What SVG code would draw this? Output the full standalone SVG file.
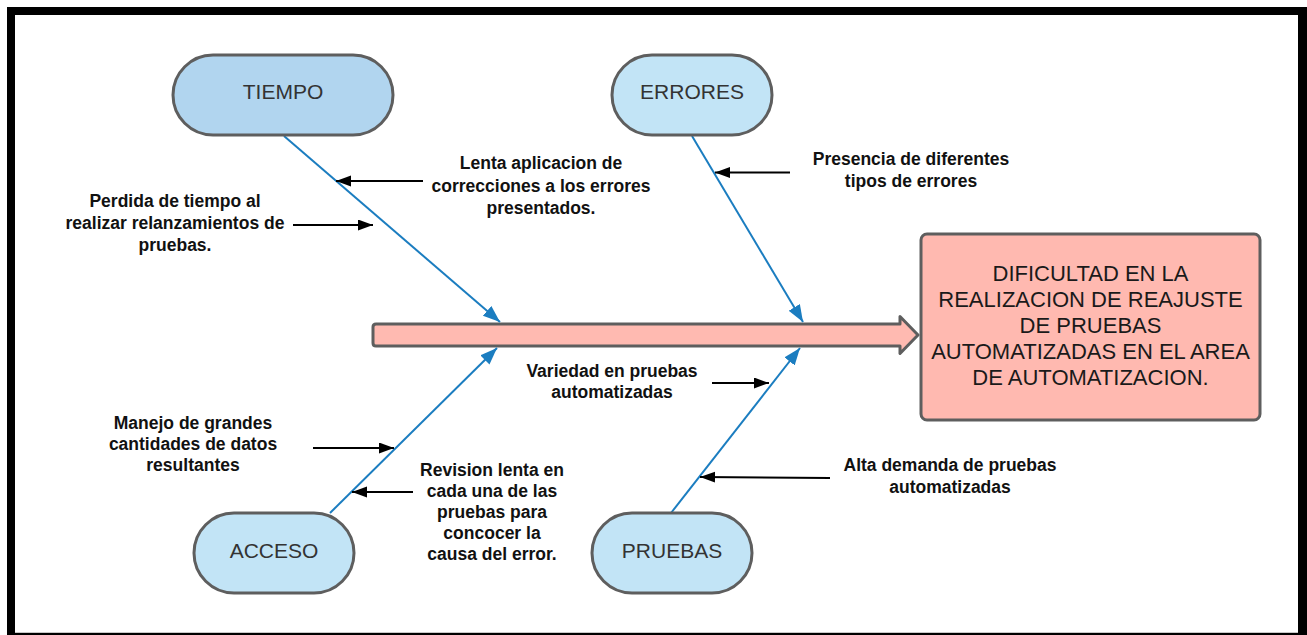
<svg xmlns="http://www.w3.org/2000/svg" width="1307" height="635" viewBox="0 0 1307 635">
  <style>
    .cause { stroke: #5e5e5e; stroke-width: 3; }
    .node-label { font-family: "Liberation Sans", Arial, sans-serif; font-size: 21px; fill: #333333; text-anchor: middle; }
    .note { font-family: "Liberation Sans", Arial, sans-serif; font-size: 17.5px; font-weight: bold; fill: #111111; text-anchor: middle; }
    .effect-label { font-family: "Liberation Sans", Arial, sans-serif; font-size: 22px; fill: #1a1a1a; text-anchor: middle; }
    .bone { stroke: #1b7dc0; stroke-width: 2; fill: none; marker-end: url(#blueHead); }
    .pointer { stroke: #000000; stroke-width: 2; fill: none; marker-end: url(#blackHead); }
  </style>
  <defs>
    <marker id="blueHead" markerUnits="userSpaceOnUse" markerWidth="18" markerHeight="14" refX="17" refY="6.5" orient="auto">
      <path d="M0,0 L17,6.5 L0,13 z" fill="#1b7dc0"/>
    </marker>
    <marker id="blackHead" markerUnits="userSpaceOnUse" markerWidth="16" markerHeight="12" refX="15" refY="5.5" orient="auto">
      <path d="M0,0 L15,5.5 L0,11 z" fill="#000000"/>
    </marker>
  </defs>

  <!-- frame -->
  <rect x="7" y="7" width="1300" height="628" fill="#000000"/>
  <rect x="15" y="15" width="1283" height="618" fill="#ffffff"/>
  <line x1="15" y1="632.5" x2="1298" y2="632.5" stroke="#c8c8c8" stroke-width="1"/>

  <!-- spine -->
  <g id="spine">
    <path d="M376,324 H900 V316.5 L918,335 L900,353.5 V346 H376 Q373,346 373,343 V327 Q373,324 376,324 z" fill="#ffbab1" stroke="#5e5e5e" stroke-width="3" stroke-linejoin="round"/>
  </g>

  <!-- connectors -->
  <g id="connectors">
    <line class="bone" x1="284" y1="136" x2="500" y2="322"/>
    <line class="bone" x1="692" y1="136" x2="803" y2="322"/>
    <line class="bone" x1="330" y1="513" x2="497" y2="348"/>
    <line class="bone" x1="671" y1="513" x2="800" y2="348"/>

    <line class="pointer" x1="423" y1="181" x2="336" y2="181"/>
    <line class="pointer" x1="293" y1="225" x2="373" y2="225"/>
    <line class="pointer" x1="790" y1="172.5" x2="715" y2="172.5"/>
    <line class="pointer" x1="712" y1="383" x2="769" y2="383"/>
    <line class="pointer" x1="313" y1="448" x2="394" y2="448"/>
    <line class="pointer" x1="413" y1="492" x2="352" y2="492"/>
    <line class="pointer" x1="830" y1="478" x2="700" y2="477"/>
  </g>

  <!-- category nodes -->
  <g id="tiempo">
    <rect class="cause" x="173" y="55" width="220" height="80" rx="40" fill="#b1d5ef"/>
    <text class="node-label" x="283" y="99">TIEMPO</text>
  </g>
  <g id="errores">
    <rect class="cause" x="612" y="55" width="160" height="80" rx="40" fill="#c2e4f6"/>
    <text class="node-label" x="692" y="99">ERRORES</text>
  </g>
  <g id="acceso">
    <rect class="cause" x="194" y="513" width="160" height="80" rx="40" fill="#c2e4f6"/>
    <text class="node-label" x="274" y="557.5">ACCESO</text>
  </g>
  <g id="pruebas">
    <rect class="cause" x="592" y="513" width="160" height="80" rx="40" fill="#c2e4f6"/>
    <text class="node-label" x="672" y="557.5">PRUEBAS</text>
  </g>

  <!-- effect -->
  <g id="efecto">
    <rect x="921" y="234" width="339" height="186" rx="6" fill="#ffb9b0" stroke="#5e5e5e" stroke-width="3"/>
    <text class="effect-label" x="1090.5" y="281">DIFICULTAD EN LA</text>
    <text class="effect-label" x="1090.5" y="307">REALIZACION DE REAJUSTE</text>
    <text class="effect-label" x="1090.5" y="333">DE PRUEBAS</text>
    <text class="effect-label" x="1090.5" y="359">AUTOMATIZADAS EN EL AREA</text>
    <text class="effect-label" x="1090.5" y="385">DE AUTOMATIZACION.</text>
  </g>

  <!-- sub-causes -->
  <g id="lenta-aplicacion">
    <text class="note" x="541" y="169">Lenta aplicacion de</text>
    <text class="note" x="541" y="191.5">correcciones a los errores</text>
    <text class="note" x="541" y="214">presentados.</text>
  </g>
  <g id="perdida-tiempo">
    <text class="note" x="175" y="207">Perdida de tiempo al</text>
    <text class="note" x="175" y="229">realizar relanzamientos de</text>
    <text class="note" x="175" y="251">pruebas.</text>
  </g>
  <g id="presencia-errores">
    <text class="note" x="911" y="165">Presencia de diferentes</text>
    <text class="note" x="911" y="187">tipos de errores</text>
  </g>
  <g id="variedad-pruebas">
    <text class="note" x="612" y="377">Variedad en pruebas</text>
    <text class="note" x="612" y="398">automatizadas</text>
  </g>
  <g id="manejo-datos">
    <text class="note" x="193" y="429">Manejo de grandes</text>
    <text class="note" x="193" y="450">cantidades de datos</text>
    <text class="note" x="193" y="471">resultantes</text>
  </g>
  <g id="revision-lenta">
    <text class="note" x="492" y="475.5">Revision lenta en</text>
    <text class="note" x="492" y="496.5">cada una de las</text>
    <text class="note" x="492" y="517.5">pruebas para</text>
    <text class="note" x="492" y="538.5">concocer la</text>
    <text class="note" x="492" y="559.5">causa del error.</text>
  </g>
  <g id="alta-demanda">
    <text class="note" x="950" y="470.5">Alta demanda de pruebas</text>
    <text class="note" x="950" y="492.5">automatizadas</text>
  </g>
</svg>
